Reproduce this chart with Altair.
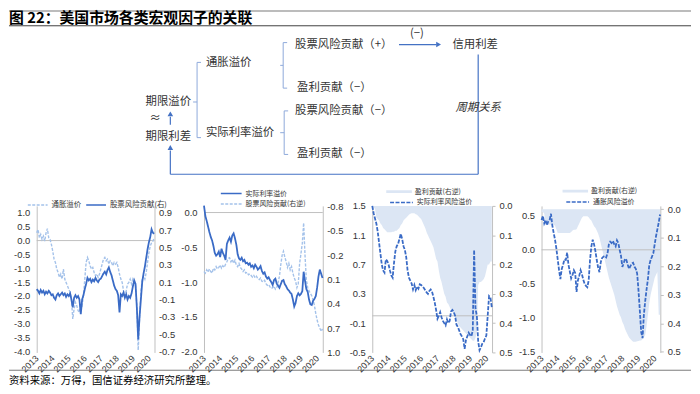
import altair as alt
import pandas as pd

# ---------------- time axis (monthly observations Jan-2013 .. May-2020) ----------------
YEAR_TICKS = [2013, 2014, 2015, 2016, 2017, 2018, 2019, 2020]
MONTHS = pd.date_range("2013-01-01", "2020-05-01", freq="MS")
T = [d.year + (d.month - 1) / 12 for d in MONTHS]

# ---------------- panel 1 ----------------
P1_NAMES = ["通胀溢价", "股票风险贡献(右)"]
p1_infl = [
    0.28, 0.40, 0.10, 0.22, 0.04, 0.16, -0.02, 0.28, 0.43, 0.10, 0.04, -0.14,
    -0.38, -0.67, -0.79, -1.03, -1.15, -1.33, -1.21, -1.39, -1.03, -1.39, -1.51, -1.63,
    -1.75, -1.87, -2.11, -2.83, -2.47, -2.23, -2.35, -2.53, -2.59, -2.29, -2.35, -1.99,
    -1.39, -0.79, -0.61, -0.73, -0.91, -1.03, -0.97, -1.15, -1.27, -1.21, -1.33, -1.21,
    -1.03, -0.85, -0.67, -0.61, -0.73, -0.67, -0.85, -0.73, -0.79, -0.91, -0.79, -0.85,
    -0.79, -0.97, -1.21, -1.39, -1.51, -1.81, -1.99, -1.81, -1.57, -1.51, -1.39, -1.57,
    -1.39, -1.51, -1.63, -2.35, -3.96, -2.83, -1.87, -1.39, -1.27, -1.39, -1.15, -0.79,
    -0.44, -0.20, -0.08, -0.02, 0.10]
p1_eq = [
    0.02, 0.00, -0.03, 0.01, -0.02, 0.00, -0.04, -0.01, -0.03, 0.00, -0.02, -0.05,
    -0.04, -0.08, -0.10, -0.05, -0.03, -0.06, -0.04, -0.02, -0.05, -0.03, -0.07, -0.04,
    -0.06, -0.03, -0.10, -0.19, -0.08, -0.05, -0.08, -0.06, -0.10, -0.27, -0.10, -0.05,
    0.02, 0.08, 0.15, 0.12, 0.14, 0.10, 0.13, 0.11, 0.15, 0.12, 0.10, 0.13,
    0.14, 0.17, 0.20, 0.22, 0.19, 0.24, 0.27, 0.22, 0.18, 0.12, 0.06, 0.02,
    0.00, -0.05, -0.25, -0.04, -0.06, -0.02, -0.08, -0.04, -0.10, -0.06, -0.08, -0.03,
    0.05, 0.12, 0.08, -0.20, -0.56, -0.30, -0.10, 0.10, 0.20, 0.28, 0.38, 0.48,
    0.56, 0.62, 0.71, 0.67, 0.66]
P1_LEFT_TICKS = [-4.0, -3.5, -3.0, -2.5, -2.0, -1.5, -1.0, -0.5, 0.0, 0.5, 1.0]
P1_RIGHT_TICKS = [-0.7, -0.5, -0.3, -0.1, 0.1, 0.3, 0.5, 0.7, 0.9]

# ---------------- panel 2 ----------------
P2_NAMES = ["实际利率溢价", "股票风险贡献(右逆)"]
p2_real = [
    0.10, -0.05, -0.12, -0.20, -0.28, -0.35, -0.40, -0.48, -0.58, -0.62, -0.60, -0.56,
    -0.64, -0.52, -0.58, -0.62, -0.68, -0.45, -0.40, -0.36, -0.42, -0.33, -0.30, -0.37,
    -0.46, -0.60, -0.66, -0.68, -0.65, -0.70, -0.68, -0.73, -0.72, -0.75, -0.73, -0.78,
    -0.76, -0.80, -0.75, -0.78, -0.82, -0.80, -0.77, -0.84, -0.88, -0.86, -0.92, -0.95,
    -0.93, -0.97, -1.00, -1.04, -0.97, -0.95, -1.02, -1.05, -1.08, -1.03, -0.98, -0.97,
    -1.03, -1.06, -1.10, -1.12, -1.15, -1.17, -1.25, -1.35, -1.30, -1.20, -1.16, -1.19,
    -1.17, -1.13, -0.85, -0.98, -1.10, -1.14, -1.25, -1.32, -1.33, -1.27, -1.24, -1.20,
    -1.08, -0.92, -0.82, -0.88, -0.94]
p2_eq = [
    0.00, 0.02, -0.02, 0.01, -0.03, 0.00, 0.02, -0.04, -0.02, -0.06, -0.03, -0.05,
    -0.08, -0.04, -0.07, -0.05, -0.09, -0.12, -0.16, -0.17, -0.12, -0.15, -0.10, -0.14,
    -0.08, -0.06, -0.10, -0.05, -0.03, 0.00, -0.02, 0.02, 0.01, 0.04, 0.03, 0.05,
    0.07, 0.05, 0.08, 0.06, 0.09, 0.10, 0.08, 0.12, 0.13, 0.11, 0.15, 0.17,
    0.16, 0.19, 0.21, 0.20, 0.18, 0.22, 0.20, 0.14, 0.06, -0.08, -0.20, -0.25,
    -0.18, -0.12, -0.05, -0.10, -0.02, -0.06, 0.02, 0.08, 0.12, 0.20, 0.15, -0.10,
    -0.22, -0.35, -0.60, -0.20, 0.10, 0.20, 0.24, 0.27, 0.30, 0.35, 0.42, 0.52,
    0.60, 0.66, 0.70, 0.74, 0.71]
P2_LEFT_TICKS = [-2.0, -1.5, -1.0, -0.5, 0.0]
P2_RIGHT_TICKS = [-0.8, -0.5, -0.2, 0.1, 0.4, 0.7, 1.0]

# ---------------- panel 3 ----------------
P3_AREA_NAME = "盈利贡献(右逆)"
P3_LINE_NAME = "实际利率风险溢价"
p3_profit = [
    0.005, 0.005, 0.010, 0.040, 0.045, 0.050, 0.060, 0.065, 0.075, 0.080, 0.085, 0.090,
    0.090, 0.090, 0.090, 0.088, 0.088, 0.085, 0.085, 0.080, 0.075, 0.065, 0.060, 0.050,
    0.045, 0.040, 0.035, 0.030, 0.027, 0.025, 0.025, 0.025, 0.028, 0.030, 0.035, 0.040,
    0.045, 0.055, 0.065, 0.075, 0.090, 0.100, 0.110, 0.120, 0.130, 0.140, 0.160, 0.180,
    0.190, 0.220, 0.245, 0.260, 0.280, 0.300, 0.310, 0.330, 0.335, 0.345, 0.355, 0.360,
    0.370, 0.380, 0.390, 0.400, 0.410, 0.415, 0.420, 0.425, 0.430, 0.435, 0.440, 0.445,
    0.450, 0.455, 0.460, 0.460, 0.450, 0.430, 0.270, 0.260, 0.260, 0.255, 0.250, 0.240,
    0.220, 0.200, 0.200, 0.190, 0.190]
p3_real = [
    1.50, 1.40, 1.33, 1.26, 1.15, 1.00, 0.85, 0.70, 0.62, 0.59, 0.77, 0.75,
    0.70, 0.62, 0.55, 0.52, 0.72, 0.88, 0.95, 0.98, 1.05, 1.12, 1.05, 0.95,
    0.90, 0.80, 0.62, 0.52, 0.48, 0.44, 0.36, 0.42, 0.35, 0.40, 0.37, 0.43,
    0.42, 0.40, 0.38, 0.35, 0.32, 0.30, 0.34, 0.36, 0.33, 0.26, 0.18, 0.08,
    -0.04, 0.00, 0.05, -0.02, -0.07, -0.10, -0.13, -0.05, -0.10, -0.07, 0.06, 0.08,
    0.05, 0.00, -0.12, -0.15, -0.20, -0.25, -0.28, -0.32, -0.45, -0.33, -0.28, -0.23,
    -0.26, -0.28, -0.20, 0.90, 0.10, 0.00, -0.35, -0.47, -0.43, -0.38, -0.36, -0.31,
    -0.27, 0.00, 0.27, 0.25, 0.12]
P3_LEFT_TICKS = [-0.5, -0.1, 0.3, 0.7, 1.1, 1.5]
P3_RIGHT_TICKS = [0.0, 0.1, 0.2, 0.3, 0.4, 0.5]

# ---------------- panel 4 ----------------
P4_AREA_NAME = "盈利贡献(右逆)"
P4_LINE_NAME = "通胀风险溢价"
p4_profit = [
    0.010, 0.010, 0.015, 0.050, 0.054, 0.054, 0.054, 0.054, 0.054, 0.054, 0.058, 0.070,
    0.083, 0.083, 0.083, 0.083, 0.083, 0.083, 0.083, 0.083, 0.083, 0.083, 0.080, 0.075,
    0.072, 0.072, 0.070, 0.060, 0.050, 0.040, 0.030, 0.025, 0.025, 0.025, 0.025, 0.028,
    0.035, 0.040, 0.050, 0.060, 0.065, 0.075, 0.085, 0.100, 0.120, 0.140, 0.160, 0.180,
    0.200, 0.220, 0.240, 0.255, 0.270, 0.285, 0.300, 0.320, 0.340, 0.355, 0.370, 0.380,
    0.395, 0.405, 0.420, 0.430, 0.440, 0.450, 0.455, 0.460, 0.465, 0.465, 0.465, 0.463,
    0.462, 0.460, 0.460, 0.455, 0.450, 0.440, 0.410, 0.370, 0.330, 0.300, 0.280, 0.260,
    0.240, 0.230, 0.220, 0.370, 0.370]
p4_infl = [
    0.44, 0.50, 0.39, 0.44, 0.36, 0.42, 0.44, 0.53, 0.36, 0.25, 0.15, 0.02,
    -0.14, -0.30, -0.43, -0.28, -0.22, -0.14, -0.15, -0.04, -0.22, -0.32, -0.42, -0.37,
    -0.30, -0.34, -0.62, -0.45, -0.38, -0.30, -0.36, -0.44, -0.50, -0.53, -0.55, -0.45,
    -0.15, 0.05, 0.15, 0.08, -0.02, -0.15, -0.26, -0.33, -0.18, -0.12, -0.10, -0.09,
    -0.11, -0.05, 0.08, 0.12, 0.10, 0.13, 0.08, 0.05, 0.14, 0.10, 0.00, -0.09,
    -0.25, -0.20, -0.13, -0.15, -0.22, -0.28, -0.24, -0.20, -0.19, -0.25, -0.28, -0.35,
    -0.60, -0.90, -1.21, -1.30, -0.95, -0.75, -0.58, -0.43, -0.22, -0.15, -0.10, -0.05,
    0.08, 0.20, 0.30, 0.40, 0.52]
P4_LEFT_TICKS = [-1.5, -1.0, -0.5, 0.0, 0.5]
P4_RIGHT_TICKS = [0.0, 0.1, 0.2, 0.3, 0.4, 0.5]

# ---------------- diagram / page texts (page pixel layout) ----------------
TITLE = "图 22：美国市场各类宏观因子的关联"
SOURCE = "资料来源：万得，国信证券经济研究所整理。"
NODE_LABELS = ["股票风险贡献（+）", "(−)", "信用利差", "通胀溢价", "盈利贡献（−）", "期限溢价",
               "≈", "股票风险贡献（−）", "实际利率溢价", "期限利差", "盈利贡献（−）"]
NODE_X = [298, 414, 457, 208, 300, 147, 151, 298, 208, 147, 300]
NODE_Y = [43, 32, 43, 62, 87, 101, 118, 110, 132, 136, 154]
CYCLE_LABEL = "周期关系"
CYCLE_XY = (460, 107)
BRACKET_SEGS = [
    (286, 41, 286, 87), (286, 41, 290, 41), (286, 87, 290, 87), (283, 64, 286, 64),
    (199, 61, 199, 137), (199, 61, 203, 61), (199, 137, 203, 137), (195, 101, 199, 101),
    (287, 110, 287, 154), (287, 110, 291, 110), (287, 154, 291, 154), (283, 132, 287, 132)]
ARROW_SEGS = [(403, 43, 441, 43), (483, 53, 483, 174), (172, 174, 483, 174),
              (172, 174, 172, 150), (172, 124, 172, 116)]
HEADS_RIGHT = [(443, 43)]
HEADS_UP = [(172, 147), (172, 113)]
PAGE_RULES = [(9, 9, 698, 9, "#A6A6A6", 1.5), (9, 24, 698, 24, "#404040", 1.0),
              (9, 372, 698, 372, "#595959", 0.8)]

# ---------------- style ----------------
DARK = "#3A6BC6"
LIGHT = "#A4C2EA"
AREA = "#DCE6F4"
AXIS_C = "#BFBFBF"
TXT = "#333333"
BRACKET_C = "#8EA9DB"
ARROW_C = "#4472C4"
FONT = "Noto Sans CJK SC"
NUMFONT = "Liberation Sans"
SOLID = [1, 0]
DASH = [3, 1.5]
WIDTHS = [119, 120, 121, 120]
HEIGHT = 148
OX, OY = 37, 206  # page position of the first panel's plot origin
LABEL_EXPR = "replace(format(datum.value, '.1f'), '\u2212', '-')"

XSCALE = alt.Scale(domain=[2013, 2020.35], nice=False, zero=False)
XAXIS = alt.Axis(values=YEAR_TICKS, format="d", labelAngle=-45, labelAlign="right",
                 labelBaseline="middle", labelFont=NUMFONT, labelFontSize=9, labelColor=TXT,
                 labelPadding=4, labelOverlap=False, labelFlush=False, domain=False,
                 ticks=False, grid=False, title=None)


def xenc():
    return alt.X("t:Q", scale=XSCALE, axis=XAXIS)


def yscale(dom, rev=False):
    return alt.Scale(domain=dom, nice=False, zero=False, reverse=rev)


def yaxis(vals, orient, ticks=False):
    kw = dict(values=vals, orient=orient, labelExpr=LABEL_EXPR, domainColor=AXIS_C,
              domainWidth=1, grid=False, labelFont=NUMFONT, labelFontSize=9.5,
              labelColor=TXT, labelPadding=7 if orient == "left" else 4,
              labelFlush=False, labelOverlap=False, title=None, ticks=ticks)
    if ticks:
        kw.update(tickColor=AXIS_C, tickSize=3)
    return alt.Axis(**kw)


def line_legend(x, y, size, horizontal=False, font_size=7):
    return alt.Legend(orient="none", legendX=x, legendY=y,
                      direction="horizontal" if horizontal else "vertical",
                      title=None, symbolType="stroke", symbolSize=size,
                      symbolStrokeWidth=1.6, labelFont=FONT, labelFontSize=font_size,
                      labelColor=TXT, labelOffset=3, columnPadding=4, rowPadding=1.5,
                      clipHeight=9, padding=0, labelLimit=200)


def area_legend(x, y):
    return alt.Legend(orient="none", legendX=x, legendY=y, title=None,
                      symbolType="M-1,-0.11H1V0.11H-1Z", symbolSize=676,
                      symbolStrokeWidth=0, labelFont=FONT, labelFontSize=7,
                      labelColor=TXT, labelOffset=3, clipHeight=9, padding=0,
                      labelLimit=200)


def frame(vals, name):
    return pd.DataFrame({"t": T, "v": vals, "s": name})


ZERO = pd.DataFrame({"v": [0.0]})


def zero_rule(ys, ax):
    return alt.Chart(ZERO).mark_rule(color=AXIS_C, strokeWidth=1).encode(
        y=alt.Y("v:Q", scale=ys, axis=ax))


def series_line(df, ys, ax, cscale, dscale, legend, width=1.5):
    return alt.Chart(df).mark_line(strokeWidth=width).encode(
        x=xenc(),
        y=alt.Y("v:Q", scale=ys, axis=ax),
        color=alt.Color("s:N", scale=cscale, legend=legend),
        strokeDash=alt.StrokeDash("s:N", scale=dscale, legend=legend),
    )


# ---------------- diagram layers (drawn in panel 1's coordinate frame, no scales) -------------
node_df = pd.DataFrame({"label": NODE_LABELS,
                        "px": [x - OX for x in NODE_X], "py": [y - OY for y in NODE_Y]})
cycle_df = pd.DataFrame({"label": [CYCLE_LABEL], "px": [CYCLE_XY[0] - OX], "py": [CYCLE_XY[1] - OY]})
title_df = pd.DataFrame({"label": [TITLE], "px": [9 - OX], "py": [16 - OY]})
source_df = pd.DataFrame({"label": [SOURCE], "px": [9 - OX], "py": [383 - OY]})


def seg_df(segs, color, width):
    return pd.DataFrame({"x": [s[0] - OX for s in segs], "y": [s[1] - OY for s in segs],
                         "x2": [s[2] - OX for s in segs], "y2": [s[3] - OY for s in segs],
                         "c": color, "w": width})


segs = pd.concat([
    seg_df(BRACKET_SEGS, BRACKET_C, 1.0),
    seg_df(ARROW_SEGS, ARROW_C, 1.2),
    pd.DataFrame({"x": [r[0] - OX for r in PAGE_RULES], "y": [r[1] - OY for r in PAGE_RULES],
                  "x2": [r[2] - OX for r in PAGE_RULES], "y2": [r[3] - OY for r in PAGE_RULES],
                  "c": [r[4] for r in PAGE_RULES], "w": [r[5] for r in PAGE_RULES]}),
], ignore_index=True)

heads_r = pd.DataFrame({"px": [h[0] - OX for h in HEADS_RIGHT], "py": [h[1] - OY for h in HEADS_RIGHT]})
heads_u = pd.DataFrame({"px": [h[0] - OX for h in HEADS_UP], "py": [h[1] - OY for h in HEADS_UP]})

PX = alt.X("px:Q", scale=None)
PY = alt.Y("py:Q", scale=None)

diagram_layers = [
    alt.Chart(segs).mark_rule().encode(
        x=alt.X("x:Q", scale=None), x2="x2:Q", y=alt.Y("y:Q", scale=None), y2="y2:Q",
        color=alt.Color("c:N", scale=None), strokeWidth=alt.StrokeWidth("w:Q", scale=None)),
    alt.Chart(heads_r).mark_point(shape="triangle-right", filled=True, size=32,
                                  color=ARROW_C, opacity=1).encode(x=PX, y=PY),
    alt.Chart(heads_u).mark_point(shape="triangle-up", filled=True, size=32,
                                  color=ARROW_C, opacity=1).encode(x=PX, y=PY),
    alt.Chart(node_df).mark_text(align="left", baseline="middle", font=FONT, fontSize=11.5,
                                 color=TXT).encode(x=PX, y=PY, text="label:N"),
    alt.Chart(cycle_df).mark_text(align="left", baseline="middle", font=FONT, fontSize=11.5,
                                  fontStyle="italic", color=TXT).encode(x=PX, y=PY, text="label:N"),
    alt.Chart(title_df).mark_text(align="left", baseline="middle", font=FONT, fontSize=15,
                                  fontWeight="bold", color="#000000").encode(x=PX, y=PY, text="label:N"),
    alt.Chart(source_df).mark_text(align="left", baseline="middle", font=FONT, fontSize=10.5,
                                   color="#000000").encode(x=PX, y=PY, text="label:N"),
]

# ---------------- panel 1 ----------------
y1L = yscale([-4.036, 1.25])
y1R = yscale([-0.711, 0.98])
ax1L = yaxis(P1_LEFT_TICKS, "left")
ax1R = yaxis(P1_RIGHT_TICKS, "right")
c1 = alt.Scale(domain=P1_NAMES, range=[LIGHT, DARK])
d1 = alt.Scale(domain=P1_NAMES, range=[DASH, SOLID])
lg1 = line_legend(-10, -5.5, 400, horizontal=True, font_size=7.5)
p1 = alt.layer(
    alt.layer(zero_rule(y1L, ax1L),
              series_line(frame(p1_infl, P1_NAMES[0]), y1L, ax1L, c1, d1, lg1, 1.4)),
    series_line(frame(p1_eq, P1_NAMES[1]), y1R, ax1R, c1, d1, lg1, 1.8),
    *diagram_layers,
).resolve_scale(y="independent").properties(width=WIDTHS[0], height=HEIGHT)

# ---------------- panel 2 ----------------
y2L = yscale([-2.01, 0.095])
y2R = yscale([-0.81, 1.0], rev=True)
ax2L = yaxis(P2_LEFT_TICKS, "left")
ax2R = yaxis(P2_RIGHT_TICKS, "right")
c2 = alt.Scale(domain=P2_NAMES, range=[DARK, LIGHT])
d2 = alt.Scale(domain=P2_NAMES, range=[SOLID, DASH])
lg2 = line_legend(16, -17, 441)
p2 = alt.layer(
    series_line(frame(p2_eq, P2_NAMES[1]), y2R, ax2R, c2, d2, lg2, 1.4),
    alt.layer(zero_rule(y2L, ax2L),
              series_line(frame(p2_real, P2_NAMES[0]), y2L, ax2L, c2, d2, lg2, 1.8)),
).resolve_scale(y="independent").properties(width=WIDTHS[1], height=HEIGHT)


# ---------------- panels 3 & 4 ----------------
def area_panel(profit, line_vals, area_name, line_name, yl, yr, axl, axr, lx, ly, ly2, width):
    area = alt.Chart(frame(profit, area_name)).mark_area(opacity=1).encode(
        x=xenc(),
        y=alt.Y("v:Q", scale=yr, axis=axr),
        y2=alt.Y2Datum(0),
        fill=alt.Fill("s:N", scale=alt.Scale(domain=[area_name], range=[AREA]),
                      legend=area_legend(lx, ly)),
    )
    cs = alt.Scale(domain=[line_name], range=[DARK])
    ds = alt.Scale(domain=[line_name], range=[[4, 1.5]])
    line = series_line(frame(line_vals, line_name), yl, axl, cs, ds,
                       line_legend(lx + 3, ly2, 529), 1.8)
    return alt.layer(area, alt.layer(zero_rule(yl, axl), line)).resolve_scale(
        y="independent").properties(width=width, height=HEIGHT)


p3 = area_panel(p3_profit, p3_real, P3_AREA_NAME, P3_LINE_NAME,
                yscale([-0.5, 1.5]), yscale([0.0, 0.5], rev=True),
                yaxis(P3_LEFT_TICKS, "left"), yaxis(P3_RIGHT_TICKS, "right", ticks=True),
                14, -19, -8, WIDTHS[2])
p4 = area_panel(p4_profit, p4_infl, P4_AREA_NAME, P4_LINE_NAME,
                yscale([-1.51, 0.646]), yscale([-0.0115, 0.502], rev=True),
                yaxis(P4_LEFT_TICKS, "left"), yaxis(P4_RIGHT_TICKS, "right", ticks=True),
                21, -19.5, -8.5, WIDTHS[3])

chart = alt.hconcat(p1, p2, p3, p4, spacing=50, bounds="flush", padding=0,
                    background="white").resolve_scale(
    color="independent", fill="independent", strokeDash="independent"
).resolve_legend(
    color="independent", fill="independent", strokeDash="independent"
).configure_view(stroke=None)

chart.save("out.html", embed_options={"renderer": "svg", "actions": False})
